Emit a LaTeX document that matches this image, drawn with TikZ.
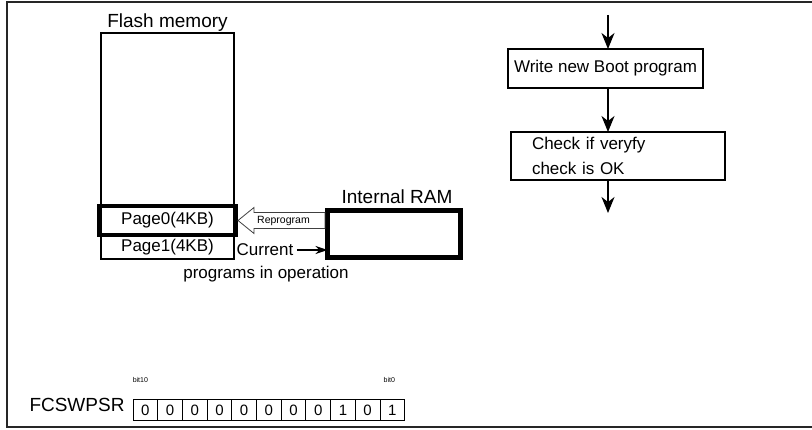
\documentclass[tikz,border=0pt]{standalone}
\usepackage{fontspec}
\setmainfont{Liberation Sans}
\usetikzlibrary{arrows.meta,calc}

\begin{document}
\begin{tikzpicture}[x=1pt, y=-1pt, >={Stealth[length=16pt,width=13pt,inset=5pt]},
  box/.style={draw, line width=1.2pt, inner sep=0pt, outer sep=0pt},
  big/.style={font=\fontsize{19}{22}\selectfont},
  mid/.style={font=\fontsize{17}{25}\selectfont},
  small/.style={font=\fontsize{10.5}{12}\selectfont}]
  \useasboundingbox (0,0) rectangle (812,430);
  \draw[line width=1.6pt, black!85] (812,2) -- (7,2) -- (7,427) -- (812,427);
  % flash memory and its pages
  \node[box, minimum width=133pt, minimum height=226pt] (flash) at (167.5,146) {};
  \node[big] (flashlbl) at (167.5,23) {Flash memory};
  \node[box, mid, minimum width=133pt, minimum height=24pt] (page1) at (167.5,247) {Page1(4KB)};
  \node[box, mid, line width=4.2pt, minimum width=137pt, minimum height=29pt] (page0) at (167.5,220.5) {Page0(4KB)};
  % internal RAM
  \node[box, line width=5pt, minimum width=133pt, minimum height=47pt] (ram) at (394,234) {};
  \node[big] (ramlbl) at (397,196.5) {Internal RAM};
  % hollow reprogram arrow
  \coordinate (tip) at ($(page0.east)+(2,0)$);
  \coordinate (tail) at ($(ram.west |- page0.east)+(-2.5,0)$);
  \draw[line width=0.8pt, black!75] (tip) -- ++(16,-13) -- ++(0,5) -- ($(tail)+(0,-8)$)
    -- ($(tail)+(0,8)$) -- ($(tip)+(16,8)$) -- ++(0,5) -- cycle;
  \node[small] (reprog) at ($(tip)!0.5!(tail)+(2,0)$) {Reprogram};
  \node[mid] (current) at (265,250) {Current};
  \draw[->, >={Stealth[length=12pt,width=8pt]}, line width=1.2pt] (current.east) -- (ram.west |- current.east);
  \node[mid] (progs) at (266,274) {programs in operation};
  % flow chart
  \coordinate (fstart) at (608,15);
  \coordinate (fend) at (608,213);
  \node[box, mid, line width=1.5pt, minimum width=195pt, minimum height=39pt] (write) at (605.5,68.5) {Write new Boot program};
  \node[box, mid, line width=1.5pt, text width=172pt, inner xsep=21pt, minimum height=48pt, align=left] (check) at (618,156) {Check if veryfy\\check is OK};
  \draw[->, line width=1.5pt] (fstart) -- (fstart |- write.north);
  \draw[->, line width=1.5pt] (write.south -| fstart) -- (fstart |- check.north);
  \draw[->, line width=1.5pt] (check.south -| fstart) -- (fend);
  % FCSWPSR register
  \node[big] (reglbl) at (77,405) {FCSWPSR};
  \foreach \b [count=\i from 0] in {0,0,0,0,0,0,0,0,1,0,1}
    \node[box, line width=1pt, minimum width=24.7pt, minimum height=21pt, font=\fontsize{15}{18}\selectfont] (c\i) at (145.35+\i*24.7,410.5) {\b};
  \node[font=\fontsize{7}{8}\selectfont, above=14pt] (b10) at ($(c0.north)+(-5,0)$) {bit10};
  \node[font=\fontsize{7}{8}\selectfont, above=14pt] (b0) at ($(c10.north)+(-3,0)$) {bit0};
\end{tikzpicture}
\end{document}
